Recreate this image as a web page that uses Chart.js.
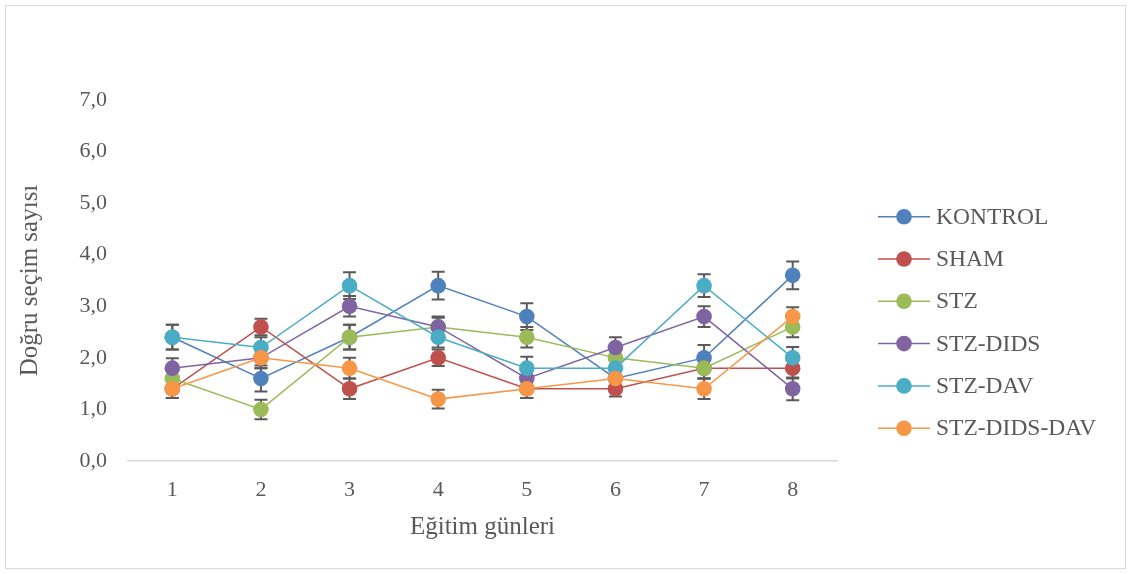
<!DOCTYPE html>
<html>
<head>
<meta charset="utf-8">
<script src="https://cdn.jsdelivr.net/npm/chart.js@4"></script>
<style>
  html, body { margin: 0; padding: 0; background: #fff; }
  #wrap { width: 1131px; height: 574px; position: relative; }
</style>
</head>
<body>
<div id="wrap"><canvas id="c" width="1131" height="574"></canvas></div>
<script>
// Training days on the x axis
const days = ['1', '2', '3', '4', '5', '6', '7', '8'];
const yTickLabels = ['0,0', '1,0', '2,0', '3,0', '4,0', '5,0', '6,0', '7,0'];

const seriesNames = ['KONTROL', 'SHAM', 'STZ', 'STZ-DIDS', 'STZ-DAV', 'STZ-DIDS-DAV'];

// Mean number of correct choices per group
const kontrol    = [2.4, 1.6, 2.4, 3.4, 2.8, 1.6, 2.0, 3.6];
const sham       = [1.4, 2.6, 1.4, 2.0, 1.4, 1.4, 1.8, 1.8];
const stz        = [1.6, 1.0, 2.4, 2.6, 2.4, 2.0, 1.8, 2.6];
const stzDids    = [1.8, 2.0, 3.0, 2.6, 1.6, 2.2, 2.8, 1.4];
const stzDav     = [2.4, 2.2, 3.4, 2.4, 1.8, 1.8, 3.4, 2.0];
const stzDidsDav = [1.4, 2.0, 1.8, 1.2, 1.4, 1.6, 1.4, 2.8];

// Standard errors
const kontrolErr    = [0.24, 0.25, 0.24, 0.27, 0.26, 0.20, 0.25, 0.27];
const shamErr       = [0.18, 0.16, 0.20, 0.16, 0.18, 0.15, 0.20, 0.20];
const stzErr        = [0.20, 0.19, 0.24, 0.20, 0.20, 0.20, 0.20, 0.20];
const stzDidsErr    = [0.19, 0.20, 0.20, 0.18, 0.22, 0.20, 0.20, 0.22];
const stzDavErr     = [0.24, 0.20, 0.26, 0.20, 0.22, 0.20, 0.22, 0.21];
const stzDidsDavErr = [0.18, 0.20, 0.20, 0.18, 0.18, 0.20, 0.20, 0.18];

const seriesValues = [kontrol, sham, stz, stzDids, stzDav, stzDidsDav];
const seriesErrors = [kontrolErr, shamErr, stzErr, stzDidsErr, stzDavErr, stzDidsDavErr];
const seriesColors = ['#4F81BD', '#C0504D', '#9BBB59', '#8064A2', '#4BACC6', '#F79646'];

const FONT = "'Liberation Serif', 'Times New Roman', serif";
const TEXT = '#595959';

// White background and thin outer frame
const framePlugin = {
  id: 'frame',
  beforeDraw(chart) {
    const ctx = chart.ctx;
    ctx.save();
    ctx.fillStyle = '#ffffff';
    ctx.fillRect(0, 0, chart.width, chart.height);
    ctx.strokeStyle = '#d9d9d9';
    ctx.lineWidth = 1;
    ctx.strokeRect(5.5, 5.5, chart.width - 11, chart.height - 11);
    ctx.restore();
  }
};

// Vertical error bars with caps, drawn beneath the lines and markers
const errorBarPlugin = {
  id: 'errorBars',
  beforeDatasetsDraw(chart) {
    const ctx = chart.ctx;
    const xs = chart.scales.x, ys = chart.scales.y;
    const cap = 6.5;
    ctx.save();
    ctx.strokeStyle = '#5a5a5a';
    ctx.lineWidth = 2;
    chart.data.datasets.forEach((ds) => {
      ds.values.forEach((v, i) => {
        const e = ds.errors[i];
        const x = xs.getPixelForValue(i);
        const yHi = ys.getPixelForValue(v + e);
        const yLo = ys.getPixelForValue(v - e);
        ctx.beginPath();
        ctx.moveTo(x, yHi); ctx.lineTo(x, yLo);
        ctx.moveTo(x - cap, yHi); ctx.lineTo(x + cap, yHi);
        ctx.moveTo(x - cap, yLo); ctx.lineTo(x + cap, yLo);
        ctx.stroke();
      });
    });
    ctx.restore();
  }
};

// Legend on the right: line + marker + name
const legendPlugin = {
  id: 'sideLegend',
  afterDraw(chart) {
    const ctx = chart.ctx;
    const x0 = 878, x1 = 930, mx = 904, tx = 936;
    const top = 216.7, step = 42.3;
    ctx.save();
    ctx.font = '23.5px ' + FONT;
    ctx.textBaseline = 'middle';
    ctx.textAlign = 'left';
    chart.data.datasets.forEach((ds, i) => {
      const y = top + i * step;
      ctx.strokeStyle = ds.borderColor;
      ctx.lineWidth = 1.5;
      ctx.beginPath();
      ctx.moveTo(x0, y); ctx.lineTo(x1, y);
      ctx.stroke();
      ctx.fillStyle = ds.borderColor;
      ctx.beginPath();
      ctx.arc(mx, y, 7.8, 0, Math.PI * 2);
      ctx.fill();
      ctx.fillStyle = TEXT;
      ctx.fillText(ds.label, tx, y + 1);
    });
    ctx.restore();
  }
};

const datasets = seriesNames.map((name, i) => ({
  label: name,
  data: seriesValues[i],
  values: seriesValues[i],
  errors: seriesErrors[i],
  borderColor: seriesColors[i],
  backgroundColor: seriesColors[i],
  pointBackgroundColor: seriesColors[i],
  pointBorderColor: seriesColors[i],
  pointBorderWidth: 0,
  pointRadius: 7.8,
  borderWidth: 1.5,
  tension: 0,
  fill: false,
  clip: false,
  order: seriesNames.length - i
}));

new Chart(document.getElementById('c'), {
  type: 'line',
  data: { labels: days, datasets },
  options: {
    responsive: false,
    animation: false,
    devicePixelRatio: 1,
    layout: { padding: { top: 100, right: 294, bottom: 0, left: 0 } },
    plugins: {
      legend: { display: false },
      tooltip: { enabled: false }
    },
    scales: {
      x: {
        type: 'category',
        offset: true,
        grid: { display: false, drawTicks: false },
        border: { display: true, color: '#d9d9d9', width: 1.5 },
        ticks: { font: { family: FONT, size: 22 }, color: TEXT, padding: 16, maxRotation: 0, autoSkip: false },
        title: {
          display: true, text: 'Eğitim günleri', color: TEXT,
          font: { family: FONT, size: 25 }, padding: { top: 0, bottom: 32 }
        },
        afterFit(scale) { scale.height = 113; }
      },
      y: {
        min: 0, max: 7,
        grid: { display: false, drawTicks: false },
        border: { display: false },
        ticks: {
          stepSize: 1,
          font: { family: FONT, size: 22 }, color: TEXT, padding: 21,
          callback: (v, i) => yTickLabels[i]
        },
        title: {
          display: true, text: 'Doğru seçim sayısı', color: TEXT,
          font: { family: FONT, size: 25 }, padding: { top: 15, bottom: 0 }
        },
        afterFit(scale) { scale.width = 128; }
      }
    }
  },
  plugins: [framePlugin, errorBarPlugin, legendPlugin]
});
</script>
</body>
</html>
